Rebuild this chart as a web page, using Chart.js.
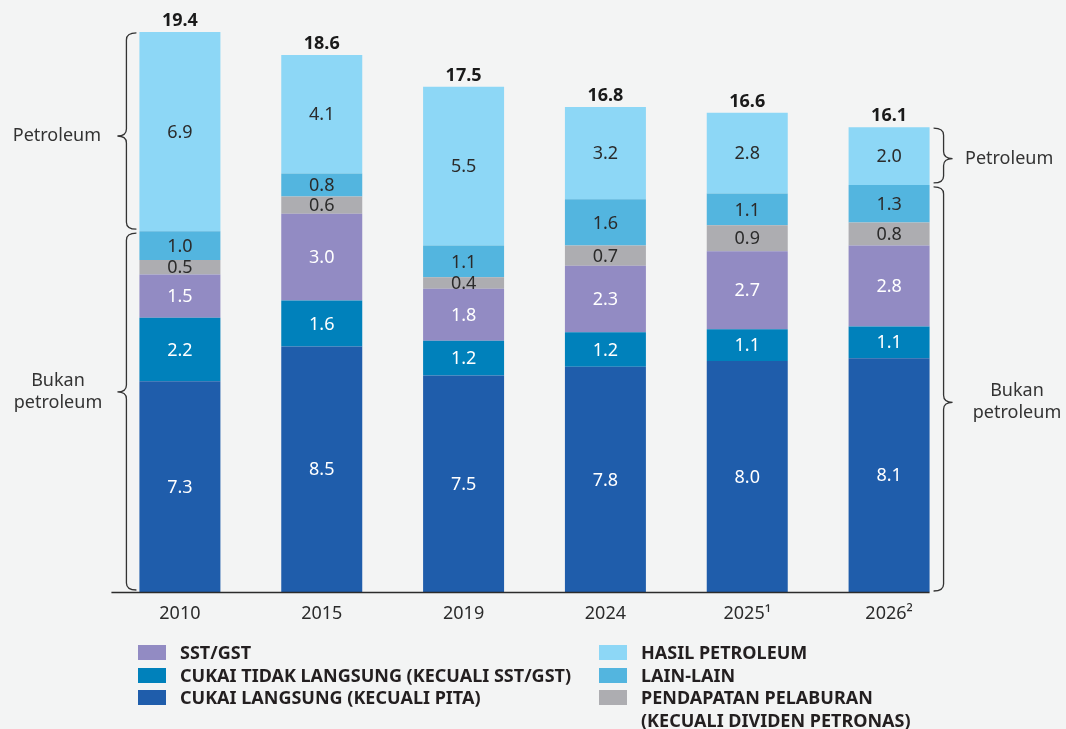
<!DOCTYPE html>
<html>
<head>
<meta charset="utf-8">
<script src="https://cdn.jsdelivr.net/npm/chart.js@4.4.1/dist/chart.umd.min.js"></script>
<style>
  body { margin: 0; background: #f3f4f4; font-family: "Noto Sans", sans-serif; }
  #wrap { position: relative; width: 1066px; height: 729px; }
  #chart { position: absolute; left: 0; top: 0; }
  .col { position: absolute; top: 641px; }
  .item { display: flex; align-items: flex-start; height: 22.5px; }
  .sw { width: 28px; height: 15px; margin-top: 4px; margin-right: 14px; flex: none; }
  .txt { font-weight: 700; font-size: 18px; line-height: 22.5px; color: #231f20; }
</style>
</head>
<body>
<div id="wrap">
  <canvas id="chart" width="1066" height="729"></canvas>
  <div class="col" id="legLeft" style="left:138px"></div>
  <div class="col" id="legRight" style="left:599px"></div>
</div>
<script>
// data
const years = ["2010", "2015", "2019", "2024", "2025¹", "2026²"];
const cukaiLangsung = [7.3, 8.5, 7.5, 7.8, 8.0, 8.1];
const cukaiTidakLangsung = [2.2, 1.6, 1.2, 1.2, 1.1, 1.1];
const sstGst = [1.5, 3.0, 1.8, 2.3, 2.7, 2.8];
const pelaburan = [0.5, 0.6, 0.4, 0.7, 0.9, 0.8];
const lainLain = [1.0, 0.8, 1.1, 1.6, 1.1, 1.3];
const hasilPetroleum = [6.9, 4.1, 5.5, 3.2, 2.8, 2.0];
const totals = [19.4, 18.6, 17.5, 16.8, 16.6, 16.1];

const seriesNames = [
  "CUKAI LANGSUNG (KECUALI PITA)",
  "CUKAI TIDAK LANGSUNG (KECUALI SST/GST)",
  "SST/GST",
  "PENDAPATAN PELABURAN\n(KECUALI DIVIDEN PETRONAS)",
  "LAIN-LAIN",
  "HASIL PETROLEUM"
];
const seriesValues = [cukaiLangsung, cukaiTidakLangsung, sstGst, pelaburan, lainLain, hasilPetroleum];
const seriesColors = ["#1f5dab", "#0081bb", "#928bc3", "#adadb1", "#53b5df", "#8dd7f6"];
const labelColors = ["#ffffff", "#ffffff", "#ffffff", "#2b2b2b", "#2b2b2b", "#2b2b2b"];

// legend (html)
const legendLeft = [2, 1, 0];
const legendRight = [5, 4, 3];
function buildLegend(id, order) {
  const el = document.getElementById(id);
  order.forEach(i => {
    const row = document.createElement("div");
    row.className = "item";
    const sw = document.createElement("div");
    sw.className = "sw";
    sw.style.background = seriesColors[i];
    const t = document.createElement("div");
    t.className = "txt";
    t.innerHTML = seriesNames[i].replace("\n", "<br>");
    row.appendChild(sw);
    row.appendChild(t);
    el.appendChild(row);
  });
}
buildLegend("legLeft", legendLeft);
buildLegend("legRight", legendRight);

const FONT = '"Noto Sans", sans-serif';

// value labels inside segments + totals on top
const labelsPlugin = {
  id: "labels",
  afterDatasetsDraw(chart) {
    const ctx = chart.ctx;
    ctx.save();
    ctx.textAlign = "center";
    chart.data.datasets.forEach((ds, i) => {
      const meta = chart.getDatasetMeta(i);
      meta.data.forEach((bar, j) => {
        ctx.fillStyle = labelColors[i];
        ctx.font = "18px " + FONT;
        ctx.textBaseline = "middle";
        ctx.fillText(ds.data[j].toFixed(1), bar.x, (bar.y + bar.base) / 2 + 1);
      });
    });
    const top = chart.getDatasetMeta(chart.data.datasets.length - 1);
    top.data.forEach((bar, j) => {
      ctx.fillStyle = "#1a1a1a";
      ctx.font = "bold 18px " + FONT;
      ctx.textBaseline = "alphabetic";
      ctx.fillText(totals[j].toFixed(1), bar.x, bar.y - 6);
    });
    ctx.restore();
  }
};

// axis line + braces
function brace(ctx, xl, y1, y2, ym, dir) {
  // dir -1: tip points left, +1: tip points right
  const hook = -dir * 10, tip = dir * 9, r = 7;
  ctx.beginPath();
  ctx.moveTo(xl + hook, y1);
  ctx.quadraticCurveTo(xl, y1, xl, y1 + r);
  ctx.lineTo(xl, ym - r);
  ctx.quadraticCurveTo(xl, ym, xl + tip, ym);
  ctx.quadraticCurveTo(xl, ym, xl, ym + r);
  ctx.lineTo(xl, y2 - r);
  ctx.quadraticCurveTo(xl, y2, xl + hook, y2);
  ctx.stroke();
}

const bracePlugin = {
  id: "braces",
  afterDraw(chart) {
    const ctx = chart.ctx;
    const ys = chart.scales.y;
    const first = chart.getDatasetMeta(0).data;
    const n = first.length;
    ctx.save();
    // axis line
    ctx.strokeStyle = "#2b2b2b";
    ctx.lineWidth = 1.5;
    const barW = first[0].width;
    ctx.beginPath();
    ctx.moveTo(first[0].x - barW / 2 - 28, ys.getPixelForValue(0) + 0.5);
    ctx.lineTo(first[n - 1].x + barW / 2, ys.getPixelForValue(0) + 0.5);
    ctx.stroke();

    ctx.lineWidth = 1.3;
    ctx.strokeStyle = "#333";
    ctx.fillStyle = "#333";
    ctx.font = "18px " + FONT;
    ctx.textBaseline = "middle";

    const nonPetro = j => cukaiLangsung[j] + cukaiTidakLangsung[j] + sstGst[j] + pelaburan[j] + lainLain[j];
    // left side (2010)
    {
      const j = 0;
      const x = first[j].x - barW / 2 - 13;
      const yTop = ys.getPixelForValue(totals[j]) + 1;
      const yMid = ys.getPixelForValue(nonPetro(j));
      const yBot = ys.getPixelForValue(0) - 2;
      const p1 = (yTop + yMid) / 2 + 4;
      brace(ctx, x, yTop, yMid - 2, p1, -1);
      const p2 = yMid + 2 + (yBot - yMid - 2) * 0.445;
      brace(ctx, x, yMid + 2, yBot, p2, -1);
      ctx.textAlign = "right";
      ctx.fillText("Petroleum", 101, p1);
      ctx.textAlign = "center";
      ctx.fillText("Bukan", 58, p2 - 11);
      ctx.fillText("petroleum", 58, p2 + 11);
    }
    // right side (2026)
    {
      const j = n - 1;
      const x = first[j].x + barW / 2 + 14;
      const yTop = ys.getPixelForValue(totals[j]) + 1;
      const yMid = ys.getPixelForValue(nonPetro(j));
      const yBot = ys.getPixelForValue(0) - 1;
      const p1 = (yTop + yMid) / 2 + 2;
      brace(ctx, x, yTop, yMid - 2, p1, 1);
      const p2 = yMid + 2 + (yBot - yMid - 2) * 0.533;
      brace(ctx, x, yMid + 2, yBot, p2, 1);
      ctx.textAlign = "left";
      ctx.fillText("Petroleum", 965, p1);
      ctx.textAlign = "center";
      ctx.fillText("Bukan", 1017, p2 - 11);
      ctx.fillText("petroleum", 1017, p2 + 11);
    }
    ctx.restore();
  }
};

new Chart(document.getElementById("chart"), {
  type: "bar",
  data: {
    labels: years,
    datasets: seriesValues.map((vals, i) => ({
      label: seriesNames[i],
      data: vals,
      backgroundColor: seriesColors[i],
      borderWidth: 0,
      categoryPercentage: 1,
      barPercentage: 0.571
    }))
  },
  options: {
    responsive: false,
    animation: false,
    events: [],
    layout: { padding: { left: 109, right: 106, top: 14.6, bottom: 0 } },
    plugins: { legend: { display: false }, tooltip: { enabled: false } },
    scales: {
      x: {
        stacked: true,
        grid: { display: false, drawTicks: false },
        border: { display: false },
        ticks: { color: "#2b2b2b", font: { family: FONT, size: 18 }, padding: 11, maxRotation: 0 },
        afterFit(scale) { scale.height = 137; }
      },
      y: { stacked: true, display: false, min: 0, max: 20 }
    }
  },
  plugins: [labelsPlugin, bracePlugin]
});
</script>
</body>
</html>
